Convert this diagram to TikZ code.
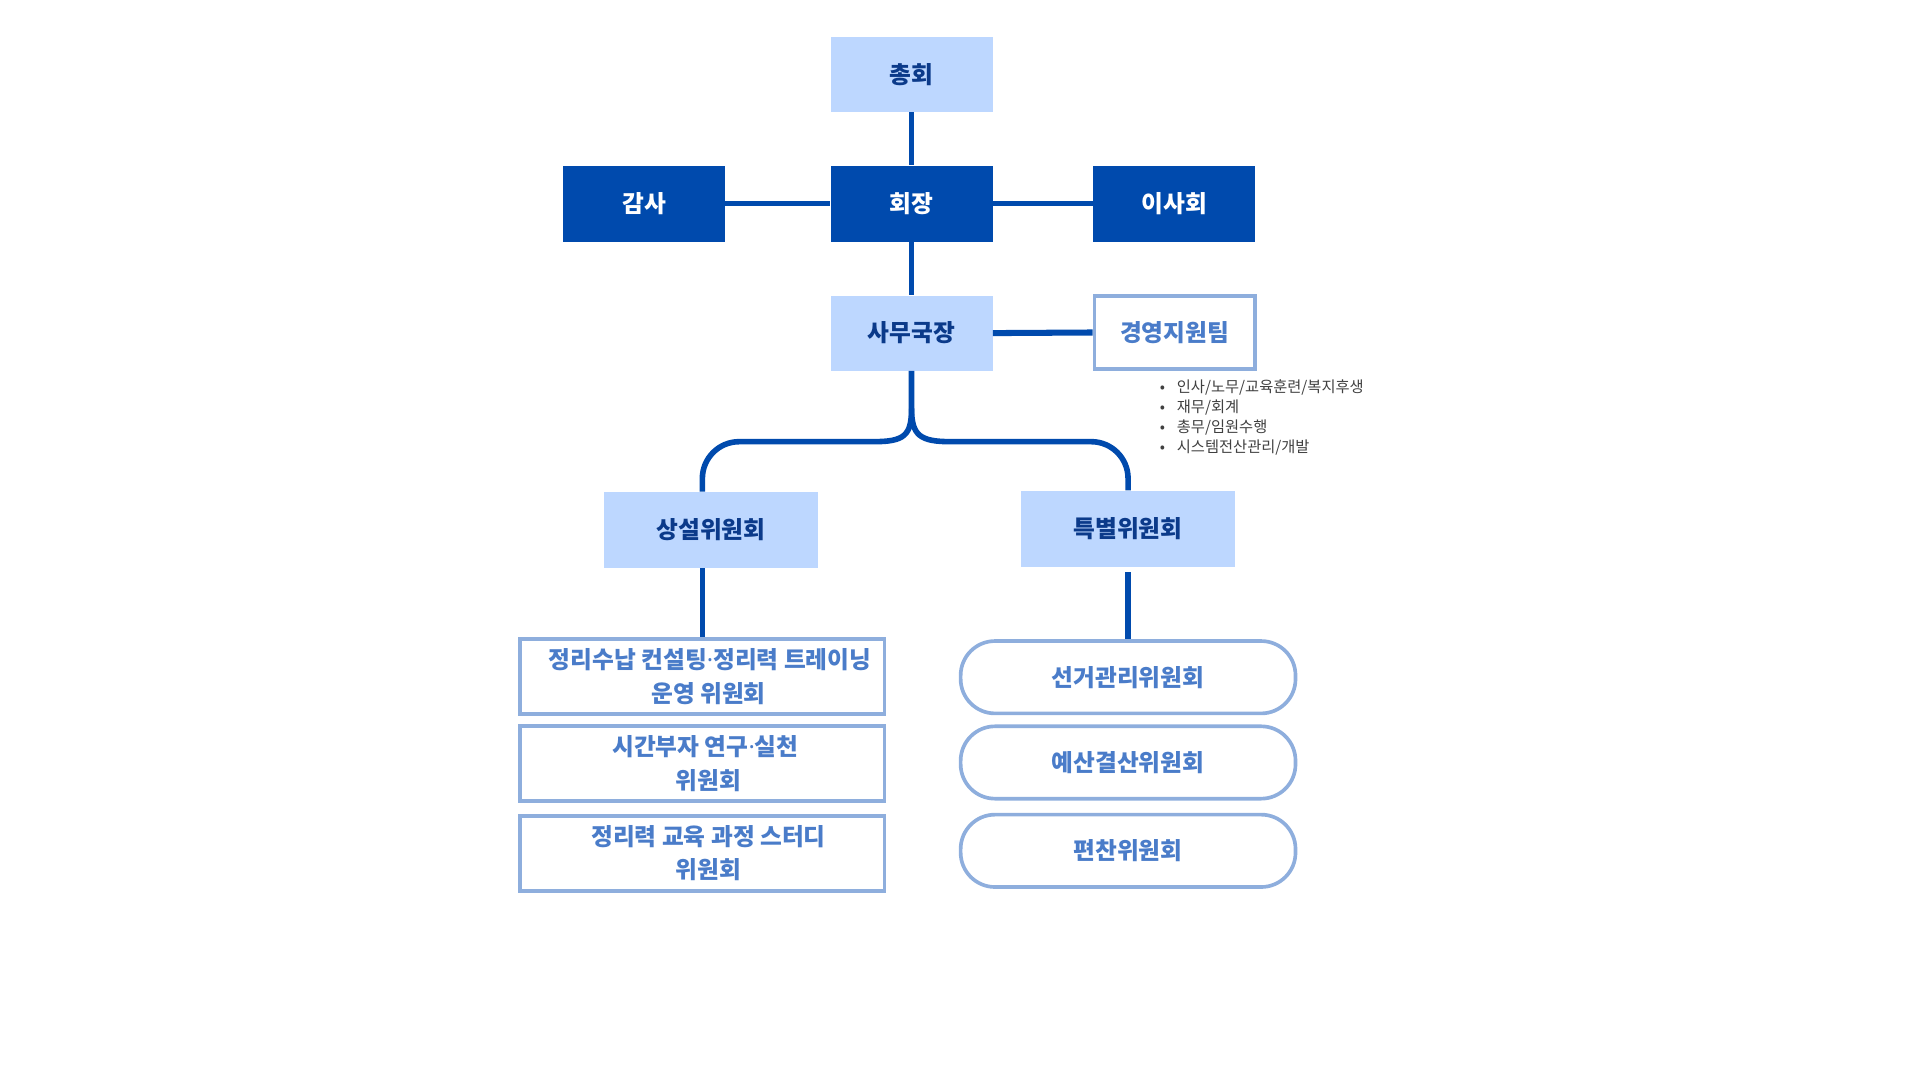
\documentclass[tikz,border=0pt]{standalone}
\usepackage{fontspec}
\setmainfont{Noto Sans CJK KR}
\newfontfamily\dotfont{Noto Sans}
\usepackage{tikz, xcolor}
\usetikzlibrary{calc}
\definecolor{orgdark}{HTML}{004AAD}
\definecolor{orglight}{HTML}{BDD7FF}
\definecolor{orgnavy}{HTML}{0B3A8A}
\definecolor{orgline}{HTML}{8EAEDD}
\definecolor{orgtext}{HTML}{4A7CC9}
\definecolor{orggray}{HTML}{404040}
\newcommand{\mdot}{{\dotfont\bfseries ·}}

\tikzset{
    headbox/.style={fill=orgdark, text=white, font=\fontsize{11}{13}\selectfont\bfseries,
        minimum width=2.64cm, minimum height=1.24cm, inner sep=0pt},
    lightbox/.style={fill=orglight, text=orgnavy, font=\fontsize{11}{13}\selectfont\bfseries,
        minimum width=2.64cm, minimum height=1.22cm, inner sep=0pt},
    outbox/.style={draw=orgline, line width=1.7pt, fill=white, text=orgtext,
        font=\fontsize{11}{15.5}\selectfont\bfseries, align=center, inner sep=0pt},
    roundbox/.style={outbox, rounded corners=0.56cm, minimum width=5.46cm, minimum height=1.18cm},
    link/.style={orgdark, line width=2.2pt},
    tree/.style={orgdark, line width=2.6pt},
}

\begin{document}
\begin{tikzpicture}[x=0.02cm, y=-0.02cm]
    \useasboundingbox (0,0) rectangle (1565,880);

    % top of the chart
    \node [lightbox] (chonghoe) at (743,60.5) {총회};
    \node [headbox] (hoejang) at (743,166) {회장};
    \node [headbox] (gamsa) at (525,166) {감사};
    \node [headbox] (isahoe) at (957,166) {이사회};
    \node [lightbox] (samu) at (743,271.5) {사무국장};
    \node [outbox, minimum width=2.62cm, minimum height=1.2cm] (gyeongyeong) at (957.5,271) {경영지원팀};
    \node [anchor=north west, align=left, text=orggray, inner sep=0pt,
        font=\fontsize{7.1}{9.3}\selectfont] (duties) at (945,309)
        {•\hspace{5.5pt}인사/노무/교육훈련/복지후생\\
         •\hspace{5.5pt}재무/회계\\
         •\hspace{5.5pt}총무/임원수행\\
         •\hspace{5.5pt}시스템전산관리/개발};

    % committees
    \node [lightbox, minimum width=3.5cm, minimum height=1.24cm] (sangseol) at (579.5,432) {상설위원회};
    \node [lightbox, minimum width=3.5cm, minimum height=1.24cm] (teukbyeol) at (919.5,431) {특별위원회};

    \node [outbox, minimum width=5.94cm, minimum height=1.22cm] (s1) at (572.5,551.5)
        {\hspace{0.25cm}정리수납 컨설팅\mdot 정리력 트레이닝\\\hspace{0.2cm}운영 위원회};
    \node [outbox, minimum width=5.94cm, minimum height=1.22cm] (s2) at (572.5,622.5)
        {\hspace{0.1cm}시간부자 연구\mdot 실천\\\hspace{0.2cm}위원회};
    \node [outbox, minimum width=5.94cm, minimum height=1.22cm] (s3) at (572.5,695.5)
        {\hspace{0.2cm}정리력 교육 과정 스터디\\\hspace{0.2cm}위원회};

    \node [roundbox] (t1) at (919.5,552) {선거관리위원회};
    \node [roundbox] (t2) at (919.5,621.5) {예산결산위원회};
    \node [roundbox] (t3) at (919.5,693.5) {편찬위원회};

    % connectors
    \draw [link] (chonghoe.south) -- (hoejang.north);
    \draw [link] (gamsa.east) -- (hoejang.west);
    \draw [link] (hoejang.east) -- (isahoe.west);
    \draw [link] (hoejang.south) -- (samu.north);
    \draw [orgdark, line width=2.8pt] (samu.east) -- (gyeongyeong.west);

    \coordinate (fork) at (743,333);
    \coordinate (lbend) at (712,360);
    \coordinate (rbend) at (775,360);
    \draw [tree] (samu.south) -- (fork) .. controls +(0,22) and +(25,0) .. (lbend)
        [rounded corners=0.6cm] -- (lbend -| s1) -- (s1 |- sangseol.north);
    \draw [tree] (fork) .. controls +(0,22) and +(-25,0) .. (rbend)
        [rounded corners=0.6cm] -- (rbend -| t1) -- (t1 |- teukbyeol.north);

    \draw [tree] (sangseol.south -| s1) -- (s1.north);
    \draw [tree, shorten <=0.08cm] (teukbyeol.south) -- (t1.north);
\end{tikzpicture}
\end{document}
